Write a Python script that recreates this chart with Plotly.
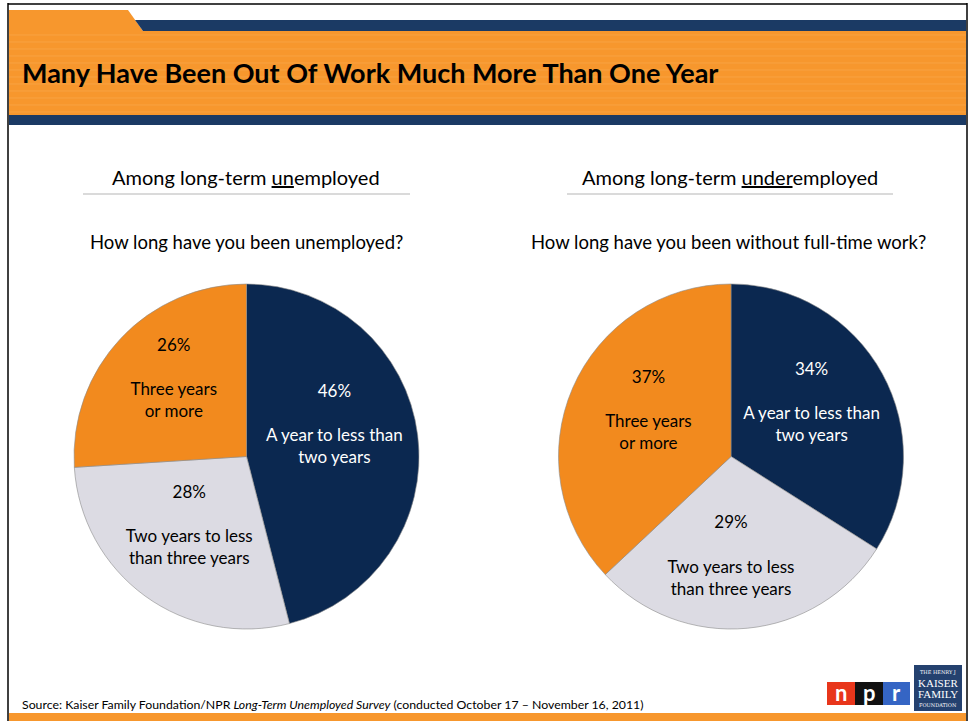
import plotly.graph_objects as go

# ---- data ----
title_text = "Many Have Been Out Of Work Much More Than One Year"
groups = ["Among long-term <u>un</u>employed", "Among long-term <u>under</u>employed"]
questions = ["How long have you been unemployed?", "How long have you been without full-time work?"]

labels_unemp = ["A year to less than<br>two years", "Two years to less<br>than three years", "Three years<br>or more"]
values_unemp = [46, 28, 26]

labels_under = ["A year to less than<br>two years", "Two years to less<br>than three years", "Three years<br>or more"]
values_under = [34, 29, 37]

source_text = ("Source: Kaiser Family Foundation/NPR <i>Long-Term Unemployed Survey</i> "
               "(conducted October 17 \u2013 November 16, 2011)")

NAVY = "#0b2850"
GRAY = "#dcdbe3"
ORANGE = "#f28a1e"
HDR_ORANGE = "#f7972d"
HDR_NAVY = "#1b3a64"
FONT = "Lato"

W, H = 969, 721
def px(x):
    return x / W
def py(y):
    return 1 - y / H

slice_colors = [NAVY, GRAY, ORANGE]
text_colors = ["white", "black", "black"]

base_tpl = "%{value}%<br><br>%{label}<br>\u00a0"
templates = [
    [base_tpl + "<br>\u00a0<br>\u00a0", base_tpl, base_tpl],
    [base_tpl, base_tpl, base_tpl],
]

fig = go.Figure()

pie_domains = [
    dict(x=[px(74), px(419)], y=[py(629), py(284)]),
    dict(x=[px(558), px(904)], y=[py(629), py(284)]),
]
for dom, labs, vals, tpl in [(pie_domains[0], labels_unemp, values_unemp, templates[0]),
                             (pie_domains[1], labels_under, values_under, templates[1])]:
    fig.add_trace(go.Pie(
        labels=labs, values=vals, domain=dom,
        sort=False, direction="clockwise", rotation=0,
        marker=dict(colors=slice_colors, line=dict(color="#8a8a8a", width=0.6)),
        texttemplate=tpl,
        textposition="inside", insidetextorientation="horizontal",
        textfont=dict(family=FONT, size=17, color=text_colors),
        hoverinfo="label+value", showlegend=False,
    ))

shapes = []
def rect(x0, y0, x1, y1, color, layer="below"):
    shapes.append(dict(type="rect", xref="paper", yref="paper",
                       x0=px(x0), x1=px(x1), y0=py(y1), y1=py(y0),
                       fillcolor=color, line=dict(width=0), layer=layer))

# header
shapes.append(dict(type="path", xref="paper", yref="paper",
                   path=f"M {px(9)},{py(10)} L {px(128)},{py(10)} L {px(143)},{py(31)} L {px(9)},{py(31)} Z",
                   fillcolor=HDR_ORANGE, line=dict(width=0), layer="below"))
shapes.append(dict(type="path", xref="paper", yref="paper",
                   path=f"M {px(135)},{py(20)} L {px(966)},{py(20)} L {px(966)},{py(31)} L {px(143)},{py(31)} Z",
                   fillcolor=HDR_NAVY, line=dict(width=0), layer="below"))
rect(9, 31, 966, 115, HDR_ORANGE)
for yy in range(35, 113, 7):
    shapes.append(dict(type="line", xref="paper", yref="paper",
                       x0=px(9), x1=px(966), y0=py(yy), y1=py(yy),
                       line=dict(color="#f8a242", width=1), layer="below"))
rect(9, 115, 966, 125, HDR_NAVY)
# bottom band
rect(9, 713, 966, 721, HDR_ORANGE)
# frame
shapes.append(dict(type="line", xref="paper", yref="paper", x0=px(8), x1=px(8), y0=py(3), y1=py(721),
                   line=dict(color="black", width=1.5)))
shapes.append(dict(type="line", xref="paper", yref="paper", x0=px(967), x1=px(967), y0=py(3), y1=py(721),
                   line=dict(color="black", width=1.5)))
shapes.append(dict(type="line", xref="paper", yref="paper", x0=px(8), x1=px(967), y0=py(4), y1=py(4),
                   line=dict(color="black", width=1.5)))
# subtitle rules
for x0, x1 in [(83, 410), (567, 893)]:
    shapes.append(dict(type="line", xref="paper", yref="paper", x0=px(x0), x1=px(x1), y0=py(194), y1=py(194),
                       line=dict(color="#dadada", width=2)))
# npr logo boxes
rect(827, 682, 855, 705, "#e8361b", layer="above")
rect(855, 682, 883, 705, "#111111", layer="above")
rect(883, 682, 910, 705, "#3565c4", layer="above")
# KFF logo box
rect(914, 665, 962, 711, "#24416f", layer="above")

annotations = []
def ann(text, x, y, size, color="black", xanchor="center", family=FONT, bold=False):
    annotations.append(dict(text=f"<b>{text}</b>" if bold else text, x=px(x), y=py(y),
                            xref="paper", yref="paper", xanchor=xanchor, yanchor="middle",
                            showarrow=False, font=dict(family=family, size=size, color=color)))

ann(title_text, 20, 73, 27, xanchor="left", bold=True)
ann(groups[0], 246, 177, 20)
ann(groups[1], 730, 177, 20)
ann(questions[0], 246, 242, 18.5)
ann(questions[1], 728, 242, 18.5)
ann(source_text, 20, 704, 12.3, xanchor="left")
for ch, xc in [("n", 841), ("p", 869), ("r", 896.5)]:
    ann(f"<b>{ch}</b>", xc, 692, 22, color="white")
ann("THE HENRY J", 938, 672, 5, color="white", family="DejaVu Serif")
ann("KAISER", 938, 683, 11, color="white", family="Liberation Serif")
ann("FAMILY", 938, 694, 11, color="white", family="Liberation Serif")
ann("FOUNDATION", 938, 705, 5, color="white", family="DejaVu Serif")

fig.update_layout(
    width=W, height=H, margin=dict(l=0, r=0, t=0, b=0),
    paper_bgcolor="white", plot_bgcolor="white",
    shapes=shapes, annotations=annotations,
    uniformtext=dict(minsize=17, mode="show"),
    font=dict(family=FONT),
)
fig.write_html("out.html", config={"displayModeBar": False})

with open("out.html", "r", encoding="utf-8") as f:
    html = f.read()
html = html.replace("<head>", "<head><style>html,body{margin:0;padding:0;overflow:hidden}</style>", 1)
with open("out.html", "w", encoding="utf-8") as f:
    f.write(html)
